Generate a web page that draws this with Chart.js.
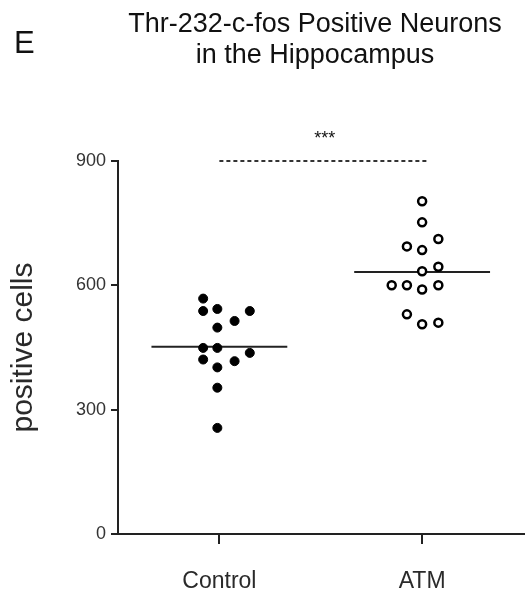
<!DOCTYPE html>
<html>
<head>
<meta charset="utf-8">
<script src="https://cdn.jsdelivr.net/npm/chart.js@4"></script>
<style>
html, body { margin: 0; padding: 0; background: #fff; }
</style>
</head>
<body>
<canvas id="dotChart" width="530" height="594"></canvas>
<script>
// data
const groups = ["Control", "ATM"];
const controlValues = [568, 538, 543, 538, 514, 498, 449, 449, 437, 421, 417, 402, 353, 256];
const controlJitter = [-0.08, -0.08, -0.01, 0.15, 0.075, -0.01, -0.08, -0.01, 0.15, -0.08, 0.075, -0.01, -0.01, -0.01];
const atmValues = [803, 752, 712, 694, 685, 645, 634, 600, 600, 590, 600, 530, 506, 510];
const atmJitter = [0, 0, 0.08, -0.075, 0, 0.08, 0, -0.15, -0.075, 0, 0.08, -0.075, 0, 0.08];
const groupMeans = [452, 632];
const yTicks = [0, 300, 600, 900];
const sigLevel = 900;
const sigText = "***";

const FONT = "'Liberation Sans', Arial, sans-serif";
const INK = "#222";
Chart.defaults.font.family = FONT;
Chart.defaults.color = INK;

function points(values, jitter, pos) {
    return values.map((v, i) => ({ x: pos + jitter[i], y: v }));
}

function meanLine(pos, m) {
    return [{ x: pos - 0.335, y: m }, { x: pos + 0.335, y: m }];
}

let textPlugin = {
    id: "figText",
    afterDraw(chart) {
        let c = chart.ctx;
        c.save();
        c.fillStyle = "#111";
        c.textBaseline = "alphabetic";
        c.textAlign = "left";
        c.font = "31px " + FONT;
        c.fillText("E", 14, 53);
        c.textAlign = "center";
        c.font = "27px " + FONT;
        c.fillText("Thr-232-c-fos Positive Neurons", 315, 32);
        c.fillText("in the Hippocampus", 315, 63);
        let xs = chart.scales.x, ys = chart.scales.y;
        c.font = "18px " + FONT;
        c.fillText(sigText, (xs.getPixelForValue(1) + xs.getPixelForValue(2.03)) / 2 + 1, ys.getPixelForValue(sigLevel) - 17);
        c.restore();
    }
};

let ctx = document.getElementById("dotChart").getContext("2d");
let myChart = new Chart(ctx, {
    type: "scatter",
    data: {
        datasets: [
            {
                label: groups[0],
                data: points(controlValues, controlJitter, 1),
                backgroundColor: "#000",
                borderColor: "#000",
                pointRadius: 4.5,
                borderWidth: 1,
                order: 1,
            },
            {
                label: groups[1],
                data: points(atmValues, atmJitter, 2),
                backgroundColor: "#fff",
                borderColor: "#000",
                pointRadius: 4,
                borderWidth: 2.5,
                order: 1,
            },
            {
                type: "line",
                data: meanLine(1, groupMeans[0]),
                borderColor: INK,
                borderWidth: 2,
                pointRadius: 0,
                order: 2,
            },
            {
                type: "line",
                data: meanLine(2, groupMeans[1]),
                borderColor: INK,
                borderWidth: 2,
                pointRadius: 0,
                order: 2,
            },
            {
                type: "line",
                data: [{ x: 1, y: sigLevel }, { x: 2.03, y: sigLevel }],
                borderColor: "#333",
                borderWidth: 2,
                borderDash: [4, 3],
                pointRadius: 0,
                clip: false,
                order: 2,
            },
        ],
    },
    options: {
        responsive: false,
        devicePixelRatio: 1,
        animation: false,
        layout: { padding: { top: 161, right: 5, left: 0, bottom: 0 } },
        plugins: {
            legend: { display: false },
            tooltip: { enabled: false },
        },
        scales: {
            x: {
                type: "linear",
                min: 0.5,
                max: 2.5,
                afterBuildTicks: (s) => { s.ticks = groups.map((g, i) => ({ value: i + 1 })); },
                afterFit: (s) => { s.height = 60; },
                ticks: {
                    callback: (v) => groups[v - 1],
                    font: { size: 23 },
                    color: "#2a2a2a",
                    padding: 24,
                },
                grid: { drawOnChartArea: false, tickLength: 10, color: INK, lineWidth: 2 },
                border: { color: INK, width: 2 },
            },
            y: {
                min: 0,
                max: 900,
                afterBuildTicks: (s) => { s.ticks = yTicks.map((v) => ({ value: v })); },
                afterFit: (s) => { s.width = 118; },
                ticks: { font: { size: 18 }, color: "#333", padding: 5 },
                grid: { drawOnChartArea: false, tickLength: 7, color: INK, lineWidth: 2 },
                border: { color: INK, width: 2 },
                title: {
                    display: true,
                    text: "positive cells",
                    font: { size: 30 },
                    color: "#2a2a2a",
                    padding: { top: 6, bottom: 0 },
                },
            },
        },
    },
    plugins: [textPlugin],
});
</script>
</body>
</html>
